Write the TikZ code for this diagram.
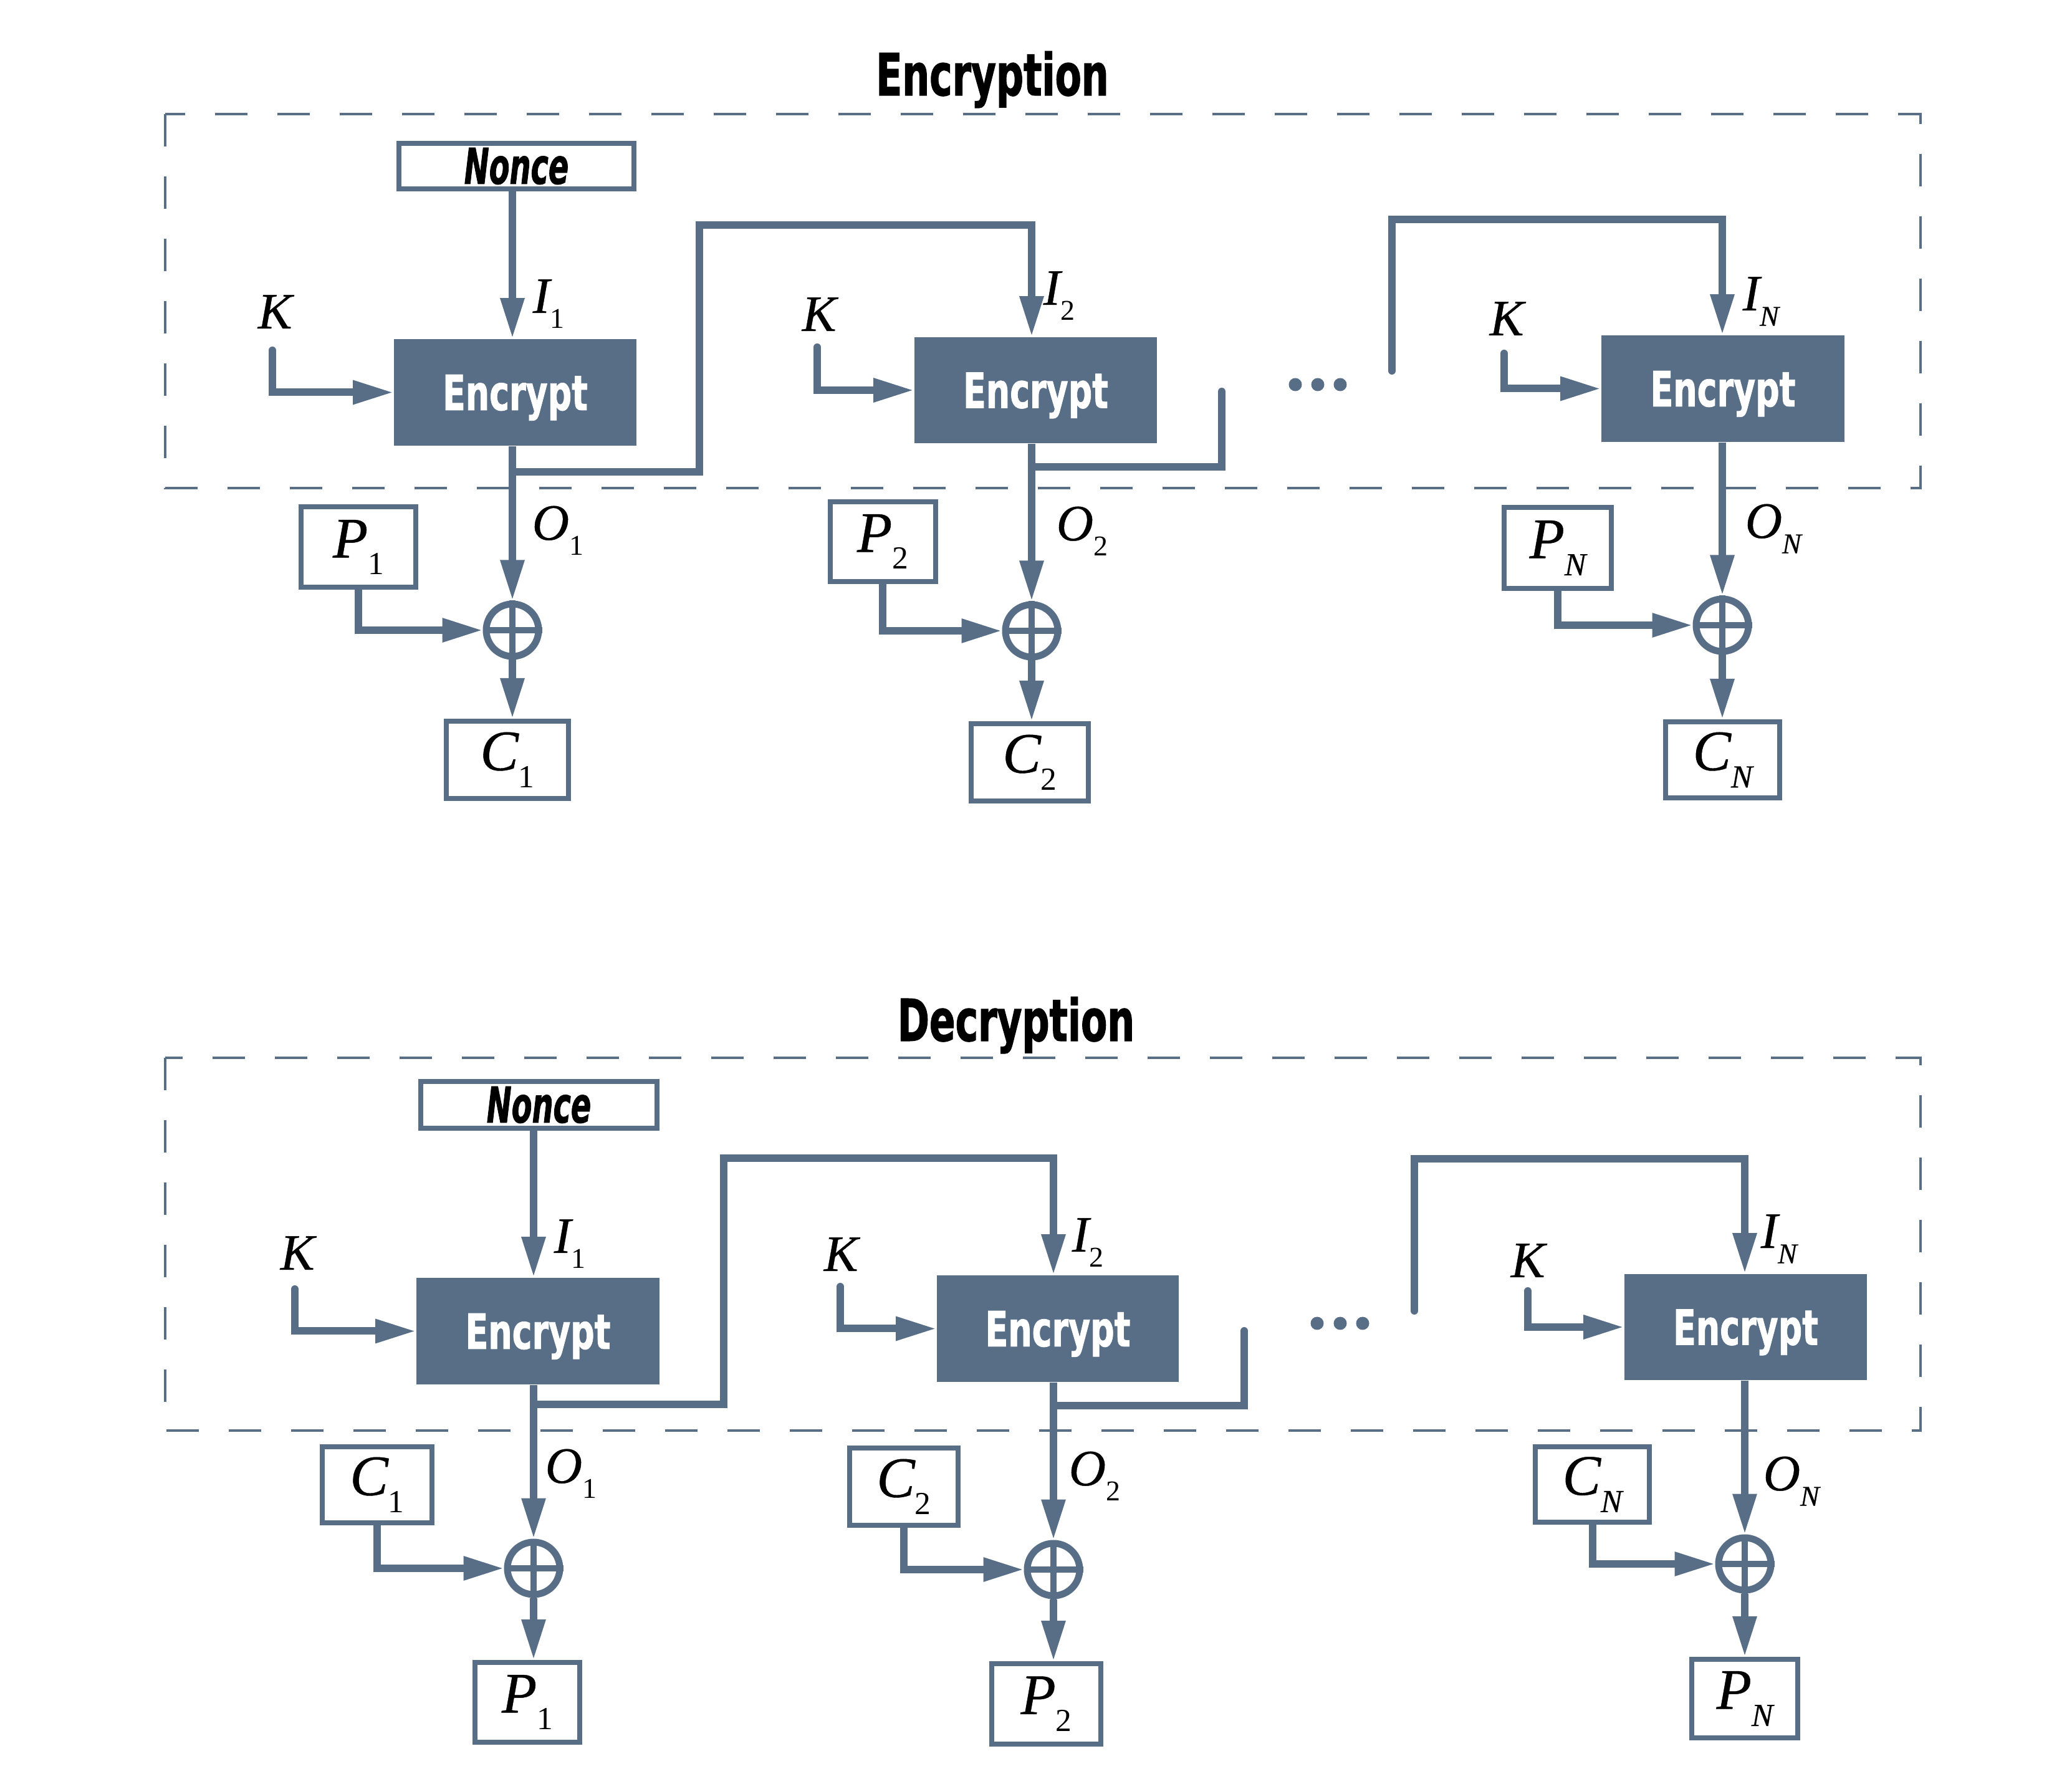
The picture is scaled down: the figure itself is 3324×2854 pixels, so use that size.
\documentclass[tikz,border=0pt]{standalone}
\usepackage{fontspec}
\usetikzlibrary{arrows.meta}
\newfontfamily\titlefont{DejaVu Sans Bold}[FakeStretch=0.66, FakeBold=1.2]
\newfontfamily\encfont{DejaVu Sans Bold}[FakeStretch=0.69, FakeBold=1.0]
\newfontfamily\noncefont{DejaVu Sans Bold Oblique}[FakeStretch=0.60, FakeBold=1.0]
\newfontfamily\labfont{Liberation Serif}
\newfontfamily\labit{Liberation Serif Italic}[FakeBold=0.5]
\definecolor{slate}{HTML}{576E86}
% italic letter with a small, lowered index
\newcommand\lab[2]{{\labit #1}\raisebox{-0.3em}{\scalebox{0.56}{#2}}}
\begin{document}
\begin{tikzpicture}[x=0.25pt, y=-0.25pt,
  conn/.style={draw=slate, line width=3pt},
  arr/.style={conn, -{Triangle[length=16.25pt, width=9pt]}},
  box/.style 2 args={draw=slate, line width=2pt, fill=white, inner sep=0pt,
    minimum width={(#1-8)*0.25pt}, minimum height={(#2-8)*0.25pt}},
  pcbox/.style 2 args={box={#1}{#2}, font=\labfont\fontsize{23}{27}\selectfont},
  noncebox/.style 2 args={box={#1}{#2}, font=\noncefont\fontsize{19.9}{22}\selectfont},
  enc/.style 2 args={fill=slate, text=white, inner sep=0pt,
    minimum width={#1*0.25pt}, minimum height={#2*0.25pt}, text depth=0pt,
    font=\encfont\fontsize{19.5}{22}\selectfont},
  xor/.style={circle, draw=slate, line width=2.75pt, fill=white, inner sep=0pt, minimum size=21pt},
  xorcross/.style={draw=slate, line width=2.5pt},
  lbl/.style={inner sep=0pt, anchor=base west, font=\labfont\fontsize{20.5}{24}\selectfont},
  headtitle/.style={inner sep=0pt, anchor=base, font=\titlefont\fontsize{23.3}{28}\selectfont},
  secframe/.style={draw=slate, line width=1.1pt, dash pattern=on 13pt off 12pt},
  dot/.style={fill=slate}]

\useasboundingbox[fill=white] (0,0) rectangle (3324,2854);

% ================= Encryption =================
\node[headtitle] (titE) at (1592,153) {Encryption};
\draw[secframe] (265,183) rectangle (3081,783);

\node[noncebox={385}{81}] (nonceE) at (828.5,266.5) {Nonce};
\node[enc={389}{171}] (encE1) at (826.5,629.5) {Encrypt};
\node[enc={389}{170}] (encE2) at (1661.5,626) {Encrypt};
\node[enc={390}{171}] (encEN) at (2764,623.5) {Encrypt};

\node[xor] (xorE1) at (822,1011) {};
\node[xor] (xorE2) at (1655,1012) {};
\node[xor] (xorEN) at (2763,1003) {};

\node[pcbox={192}{137}] (P1E) at (575,878) {\lab{P}{1}};
\node[pcbox={204}{132}] (C1E) at (814,1219) {\lab{C}{1}};
\node[pcbox={177}{136}] (P2E) at (1416,869) {\lab{P}{2}};
\node[pcbox={196}{132}] (C2E) at (1652,1223) {\lab{C}{2}};
\node[pcbox={180}{138}] (PNE) at (2499,879) {\lab{P}{\labit N}};
\node[pcbox={191}{130}] (CNE) at (2763.5,1219) {\lab{C}{\labit N}};

\node[lbl] (KE1) at (413,527) {\labit K};
\node[lbl] (IE1) at (854,502) {\lab{I}{1}};
\node[lbl] (OE1) at (853,866) {\lab{O}{1}};
\node[lbl] (KE2) at (1286,531) {\labit K};
\node[lbl] (IE2) at (1673,489) {\lab{I}{2}};
\node[lbl] (OE2) at (1694,867) {\lab{O}{2}};
\node[lbl] (KEN) at (2389,538) {\labit K};
\node[lbl] (IEN) at (2795,498) {\lab{I}{\labit N}};
\node[lbl] (OEN) at (2799,863) {\lab{O}{\labit N}};

\coordinate (kinE1) at (437,562);
\coordinate (kinE2) at (1311,557);
\coordinate (kinEN) at (2413,567);
\coordinate (jE1) at (822,757);
\coordinate (rE1) at (1122,361);
\coordinate (jE2) at (1655,749);
\coordinate (eE2) at (1960,628);
\coordinate (sEN) at (2233,595);
\coordinate (tEN) at (2763,352);

\draw[arr] (nonceE.south -| xorE1) -- (encE1.north -| xorE1);
\draw[arr, line cap=round] (kinE1) |- (encE1.west);
\draw[arr, line cap=round] (kinE2) |- (encE2.west);
\draw[arr, line cap=round] (kinEN) |- (encEN.west);

\draw[arr] (encE1.south -| xorE1) -- (xorE1.north);
\draw[arr] (encE2.south -| xorE2) -- (xorE2.north);
\draw[arr] (encEN.south -| xorEN) -- (xorEN.north);

\draw[arr] (jE1) -| (rE1) -| (encE2.north -| xorE2);
\draw[conn, line cap=round] (jE2) -| (eE2);
\draw[arr, line cap=round] (sEN) |- (tEN) -- (encEN.north -| xorEN);

\draw[arr] (P1E.south) |- (xorE1.west);
\draw[arr] (P2E.south) |- (xorE2.west);
\draw[arr] (PNE.south) |- (xorEN.west);

\draw[arr] (xorE1.south) -- (xorE1.south |- C1E.north);
\draw[arr] (xorE2.south) -- (xorE2.south |- C2E.north);
\draw[arr] (xorEN.south) -- (xorEN.south |- CNE.north);

\foreach \n in {E1,E2,EN}{
  \draw[xorcross] (xor\n.north) -- (xor\n.south) (xor\n.west) -- (xor\n.east);
}
\foreach \x in {2078,2114,2150}{ \fill[dot] (\x,617) circle[radius=10.5]; }

% ================= Decryption =================
\node[headtitle] (titD) at (1630,1670) {Decryption};
\draw[secframe] (265,1697) rectangle (3081,2295);

\node[noncebox={387}{83}] (nonceD) at (864.5,1772.5) {Nonce};
\node[enc={390}{171}] (encD1) at (863,2135.5) {Encrypt};
\node[enc={388}{171}] (encD2) at (1697,2131.5) {Encrypt};
\node[enc={389}{170}] (encDN) at (2800.5,2129) {Encrypt};

\node[xor] (xorD1) at (856,2516) {};
\node[xor] (xorD2) at (1690,2518) {};
\node[xor] (xorDN) at (2799,2509) {};

\node[pcbox={184}{130}] (C1D) at (605,2382) {\lab{C}{1}};
\node[pcbox={176}{136}] (P1D) at (846,2731) {\lab{P}{1}};
\node[pcbox={182}{132}] (C2D) at (1450,2385) {\lab{C}{2}};
\node[pcbox={183}{137}] (P2D) at (1678.5,2733.5) {\lab{P}{2}};
\node[pcbox={191}{129}] (CND) at (2554.5,2381.5) {\lab{C}{\labit N}};
\node[pcbox={178}{134}] (PND) at (2799,2725) {\lab{P}{\labit N}};

\node[lbl] (KD1) at (449,2037) {\labit K};
\node[lbl] (ID1) at (888,2010) {\lab{I}{1}};
\node[lbl] (OD1) at (874,2379) {\lab{O}{1}};
\node[lbl] (KD2) at (1321,2039) {\labit K};
\node[lbl] (ID2) at (1719,2008) {\lab{I}{2}};
\node[lbl] (OD2) at (1714,2383) {\lab{O}{2}};
\node[lbl] (KDN) at (2423,2049) {\labit K};
\node[lbl] (IDN) at (2824,2002) {\lab{I}{\labit N}};
\node[lbl] (ODN) at (2828,2391) {\lab{O}{\labit N}};

\coordinate (kinD1) at (473,2068);
\coordinate (kinD2) at (1348,2064);
\coordinate (kinDN) at (2451,2071);
\coordinate (jD1) at (856,2253);
\coordinate (rD1) at (1161,1858);
\coordinate (jD2) at (1690,2255);
\coordinate (eD2) at (1996,2135);
\coordinate (sDN) at (2269,2103);
\coordinate (tDN) at (2799,1859);

\draw[arr] (nonceD.south -| xorD1) -- (encD1.north -| xorD1);
\draw[arr, line cap=round] (kinD1) |- (encD1.west);
\draw[arr, line cap=round] (kinD2) |- (encD2.west);
\draw[arr, line cap=round] (kinDN) |- (encDN.west);

\draw[arr] (encD1.south -| xorD1) -- (xorD1.north);
\draw[arr] (encD2.south -| xorD2) -- (xorD2.north);
\draw[arr] (encDN.south -| xorDN) -- (xorDN.north);

\draw[arr] (jD1) -| (rD1) -| (encD2.north -| xorD2);
\draw[conn, line cap=round] (jD2) -| (eD2);
\draw[arr, line cap=round] (sDN) |- (tDN) -- (encDN.north -| xorDN);

\draw[arr] (C1D.south) |- (xorD1.west);
\draw[arr] (C2D.south) |- (xorD2.west);
\draw[arr] (CND.south) |- (xorDN.west);

\draw[arr] (xorD1.south) -- (xorD1.south |- P1D.north);
\draw[arr] (xorD2.south) -- (xorD2.south |- P2D.north);
\draw[arr] (xorDN.south) -- (xorDN.south |- PND.north);

\foreach \n in {D1,D2,DN}{
  \draw[xorcross] (xor\n.north) -- (xor\n.south) (xor\n.west) -- (xor\n.east);
}
\foreach \x in {2113,2150,2186}{ \fill[dot] (\x,2123) circle[radius=10.5]; }

\end{tikzpicture}
\end{document}
